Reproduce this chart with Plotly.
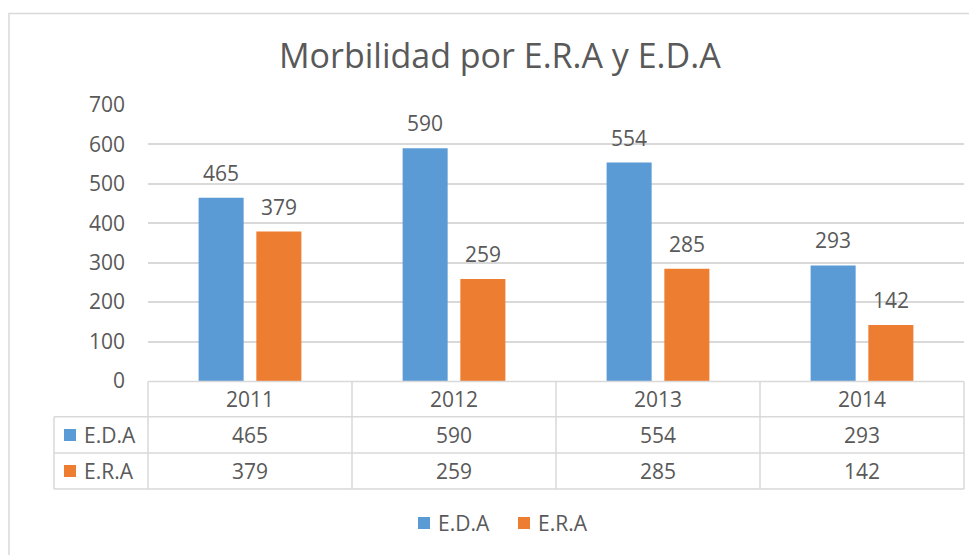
import plotly.graph_objects as go

years = ["2011", "2012", "2013", "2014"]
eda = [465, 590, 554, 293]
era = [379, 259, 285, 142]
series_names = ["E.D.A", "E.R.A"]
colors = ["#5b9bd5", "#ed7d31"]
title_text = "Morbilidad por E.R.A y E.D.A"

OFF = 8  # browser default body margin
W, H = 977 - OFF, 555 - OFF
# plot area in screen pixels
PL, PR, PT, PB = 148, 964, 105, 381
GRAY = "#595959"
LINE = "#d9d9d9"
FONT = "Open Sans"
FS = 21
bargap = 0.434
bargroupgap = 0.22

def px(x):
    return (x - PL) / (PR - PL)

def py(y):
    return (PB - y) / (PB - PT)

fig = go.Figure()
for name, vals, c in zip(series_names, [eda, era], colors):
    fig.add_trace(go.Bar(x=years, y=vals, name=name, marker_color=c,
                         marker_line_width=0, showlegend=False))

cat_w = (PR - PL) / len(years)
slot = (1 - bargap) * cat_w / 2
shapes = []
ann = []

# data labels above bars
for i, vals in enumerate([eda, era]):
    shift = (i - 0.5) * slot
    for k, v in enumerate(vals):
        ann.append(dict(x=k, y=v, xref="x", yref="y", text=str(v), showarrow=False,
                        xshift=shift, yshift=9, yanchor="bottom",
                        font=dict(family=FONT, size=FS, color=GRAY)))

# data table
row_lines = [381.5, 416.7, 453, 489]
for i, yline in enumerate(row_lines):
    x0 = px(148) if i == 0 else px(54)
    shapes.append(dict(type="line", xref="paper", yref="paper", x0=x0, x1=1,
                       y0=py(yline), y1=py(yline), line=dict(color=LINE, width=1.5)))
shapes.append(dict(type="line", xref="paper", yref="paper", x0=px(54), x1=px(54),
                   y0=py(416.7), y1=py(489), line=dict(color=LINE, width=1.5)))
for k in range(len(years) + 1):
    xv = k / len(years)
    shapes.append(dict(type="line", xref="paper", yref="paper", x0=xv, x1=xv,
                       y0=py(381.5), y1=py(489), line=dict(color=LINE, width=1.5)))

row_centers = [399, 435, 471]
for k, yr in enumerate(years):
    ann.append(dict(x=k, y=py(row_centers[0]), xref="x", yref="paper", text=yr,
                    yanchor="middle", showarrow=False, font=dict(family=FONT, size=FS, color=GRAY)))
for r, vals in enumerate([eda, era]):
    for k, v in enumerate(vals):
        ann.append(dict(x=k, y=py(row_centers[r + 1]), xref="x", yref="paper", text=str(v),
                        yanchor="middle", showarrow=False, font=dict(family=FONT, size=FS, color=GRAY)))
    yc = row_centers[r + 1]
    shapes.append(dict(type="rect", xref="paper", yref="paper", x0=px(64), x1=px(76),
                       y0=py(yc - 6), y1=py(yc + 6), fillcolor=colors[r], line_width=0))
    ann.append(dict(x=px(82), y=py(yc), xref="paper", yref="paper", text=series_names[r],
                    xanchor="left", yanchor="middle", showarrow=False,
                    font=dict(family=FONT, size=FS, color=GRAY)))

# bottom legend
leg_x = [418, 518]
for r in range(2):
    shapes.append(dict(type="rect", xref="paper", yref="paper", x0=px(leg_x[r]), x1=px(leg_x[r] + 12),
                       y0=py(517), y1=py(529), fillcolor=colors[r], line_width=0))
    ann.append(dict(x=px(leg_x[r] + 18), y=py(523), xref="paper", yref="paper", text=series_names[r],
                    xanchor="left", yanchor="middle", showarrow=False,
                    font=dict(family=FONT, size=FS, color=GRAY)))

# chart frame
shapes.append(dict(type="rect", xref="paper", yref="paper", x0=px(9), x1=px(1000),
                   y0=py(13.5), y1=py(600), line=dict(color=LINE, width=1.5), layer="below"))

# title
ann.append(dict(x=px(500), y=py(55), xref="paper", yref="paper", text=title_text,
                yanchor="middle", showarrow=False, font=dict(family=FONT, size=34, color=GRAY)))

fig.update_layout(
    width=W, height=H,
    margin=dict(l=PL - OFF, r=W - (PR - OFF), t=PT - OFF, b=H - (PB - OFF)),
    paper_bgcolor="white", plot_bgcolor="white",
    barmode="group", bargap=bargap, bargroupgap=bargroupgap,
    shapes=shapes, annotations=ann,
    xaxis=dict(type="category", range=[-0.5, len(years) - 0.5], showticklabels=False,
               showgrid=False, zeroline=False, showline=False, ticks=""),
    yaxis=dict(range=[0, 700], dtick=100, showgrid=True, gridcolor=LINE, gridwidth=1.5,
               zeroline=False, showline=False, ticks="", ticklabelstandoff=22,
               tickfont=dict(family=FONT, size=FS, color=GRAY)),
)
fig.write_html("out.html")
